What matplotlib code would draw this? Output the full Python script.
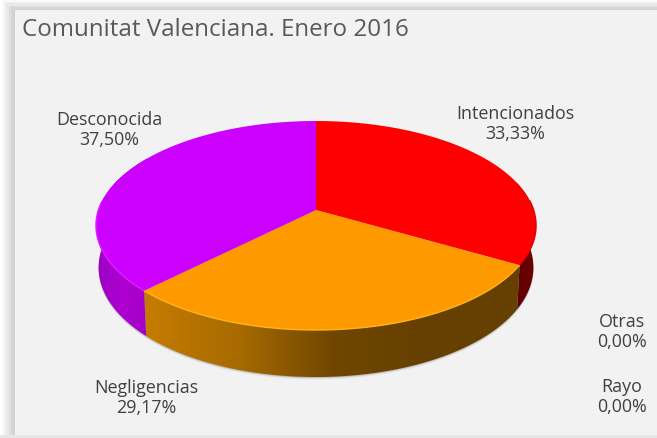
import matplotlib
matplotlib.use("Agg")
import matplotlib.pyplot as plt
import numpy as np
from matplotlib.colors import LinearSegmentedColormap
from matplotlib.patches import Polygon, Rectangle

# values
categories = ["Intencionados", "Negligencias", "Rayo", "Otras", "Desconocida"]
shares = [33.33, 29.17, 0.00, 0.00, 37.50]
tick_text = ["33,33%", "29,17%", "0,00%", "0,00%", "37,50%"]
title = "Comunitat Valenciana. Enero 2016"

TOP_COLORS = {"Intencionados": "#ff0000", "Negligencias": "#ff9900", "Desconocida": "#cc00ff"}
RIM_COLORS = {"Intencionados": "#e00000", "Negligencias": "#ffb31a", "Desconocida": "#e61aff"}
SIDE_STOPS = {
    "Intencionados": ["#720000", "#5c0000"],
    "Negligencias": ["#c67c00", "#a86a00", "#704700", "#664000", "#664000"],
    "Desconocida": ["#9c00c4", "#ad00d1", "#a500c8"],
}
LABEL_POS = {
    "Intencionados": (515, 124),
    "Negligencias": (146, 398),
    "Rayo": (622, 397),
    "Otras": (622, 332),
    "Desconocida": (109, 130),
}

# pie geometry in pixels (tilted disc with perspective)
CX, CY = 316.0, 210.0
RX, RY = 217.6, 102.2
PERSP = 0.1484
DEPTH = 47.0


def project(theta, drop=0.0):
    u, v = np.cos(theta), np.sin(theta)
    w = 1 + PERSP * v
    scale = 1 - 0.012 * (drop > 0)
    return CX + scale * RX * u / w, CY - RY * v / w + drop * (1 - 0.25 * (v + 1) / 2)


def arc(start_frac, end_frac, n=160):
    return np.pi / 2 - 2 * np.pi * np.linspace(start_frac, end_frac, n)


fig = plt.figure(figsize=(6.57, 4.38), dpi=100, facecolor="#ffffff")
ax = fig.add_axes([0, 0, 1, 1])
ax.set_xlim(0, 657)
ax.set_ylim(438, 0)
ax.axis("off")

# soft frame around the chart area
for grow, shade in [(13, "#fafafa"), (11, "#f1f1f1"), (9, "#e9e9e9"), (6, "#dedede"), (4, "#d6d6d6"), (2, "#d2d2d2")]:
    ax.add_patch(Rectangle((15 - grow, 10 - grow * 0.75), 700, 425 + grow * 0.75, fc=shade, ec="none", zorder=1))
ax.add_patch(Rectangle((15, 10), 700, 425, fc="#f2f2f2", ec="none", zorder=1.1))
ax.add_patch(Rectangle((0, 435), 657, 3, fc="#e6e6e6", ec="none", zorder=1.2))

fracs = np.cumsum([0] + shares) / sum(shares)

# shadow below the disc
full = arc(0, 1, 360)
sx, sy = project(full, DEPTH)
for off, alpha in [(2.4, 0.08), (1.4, 0.14), (0.6, 0.2)]:
    ax.add_patch(Polygon(np.c_[sx, sy + off], fc="#505050", ec="none", alpha=alpha, zorder=2))

# side walls
for name, a, b in zip(categories, fracs[:-1], fracs[1:]):
    if b <= a:
        continue
    th = arc(a, b)
    x0, y0 = project(th)
    x1, y1 = project(th, DEPTH)
    wall = Polygon(np.r_[np.c_[x0, y0], np.c_[x1, y1][::-1]], fc="none", ec="none", zorder=3)
    ax.add_patch(wall)
    cmap = LinearSegmentedColormap.from_list(name, SIDE_STOPS[name])
    front = np.sin(th) < 0
    xs = np.r_[x0[front], x1[front]]
    grad = np.linspace(0, 1, 256)[None, :]
    if name == "Intencionados":
        grad = grad[:, ::-1]
    im = ax.imshow(grad, cmap=cmap, extent=(xs.min(), xs.max(), 438, 0), aspect="auto", zorder=3)
    im.set_clip_path(wall)

ax.set_xlim(0, 657)
ax.set_ylim(438, 0)

# top faces and their rim highlight
for name, a, b in zip(categories, fracs[:-1], fracs[1:]):
    if b <= a:
        continue
    th = arc(a, b)
    x0, y0 = project(th)
    ax.add_patch(Polygon(np.r_[[[CX, CY]], np.c_[x0, y0]], fc=TOP_COLORS[name], ec="none", zorder=4))
    front = np.sin(th) < 0.1
    ax.plot(x0[front], y0[front], color=RIM_COLORS[name], lw=1.0, zorder=5, solid_capstyle="butt")

# texts
ax.text(22, 30.5, title, fontsize=17.4, color="#595959", family="Open Sans", va="center", ha="left", zorder=6)
for name, pct in zip(categories, tick_text):
    lx, ly = LABEL_POS[name]
    ax.text(lx, ly, f"{name}\n{pct}", fontsize=12.9, color="#404040", family="Open Sans",
            ha="center", va="center", linespacing=1.14, zorder=6)

fig.savefig("out.png", dpi=100)
